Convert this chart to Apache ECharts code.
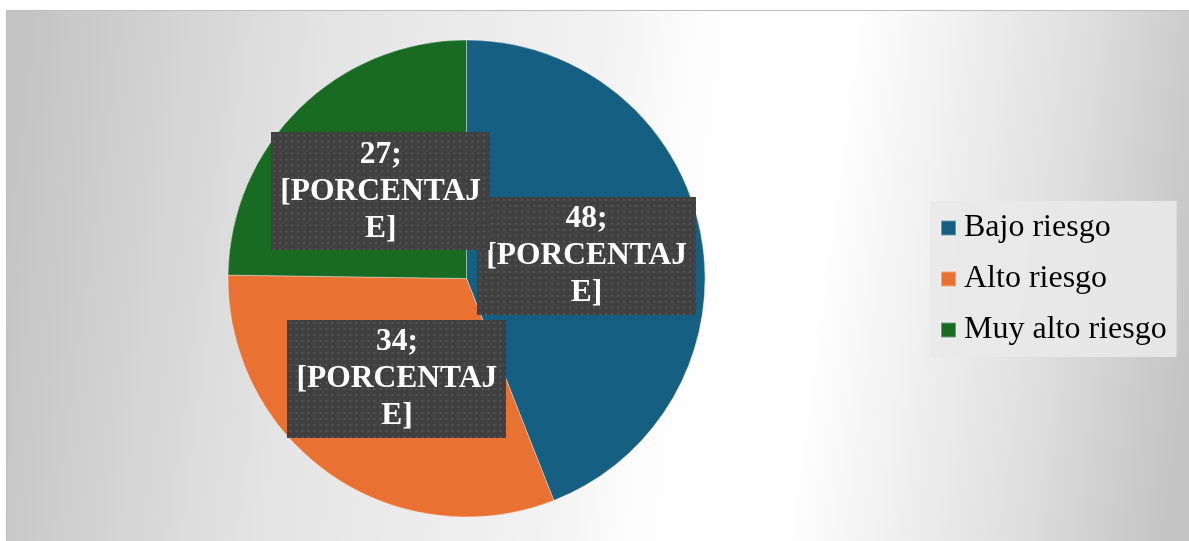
<!DOCTYPE html>
<html>
<head>
<meta charset="utf-8">
<script src="https://cdn.jsdelivr.net/npm/echarts@6/dist/echarts.min.js"></script>
<style>
  html, body { margin: 0; padding: 0; background: #ffffff; }
  #chart { width: 1189px; height: 541px; }
</style>
</head>
<body>
<div id="chart"></div>
<script>
// ---- data ----
const categories = ['Bajo riesgo', 'Alto riesgo', 'Muy alto riesgo'];
const values = [48, 34, 27];
const colors = ['#156082', '#E97132', '#196B24'];
// which label sits on the top layer (drawn by an overlay series)
const topLabelIndex = 2;

// ---- dotted dark label background ----
function makePattern(w, h) {
  const c = document.createElement('canvas');
  c.width = w; c.height = h;
  const g = c.getContext('2d');
  g.fillStyle = '#404040';
  g.fillRect(0, 0, w, h);
  g.fillStyle = '#555555';
  for (let y = 2; y < h; y += 6) {
    for (let x = 2; x < w; x += 6) {
      g.fillRect(x, y, 2, 2);
    }
  }
  return c;
}
const labelW = 219, labelH = 118;
const pattern = makePattern(labelW, labelH);

const chart = echarts.init(document.getElementById('chart'), null, { renderer: 'canvas' });

const labelStyle = {
  show: true,
  position: 'inside',
  formatter: function (p) { return p.value + ';\n[PORCENTAJ\nE]'; },
  fontFamily: 'Liberation Serif',
  fontWeight: 'bold',
  fontSize: 31.5,
  lineHeight: 37,
  color: '#ffffff',
  textBorderWidth: 0,
  align: 'center',
  verticalAlign: 'middle',
  width: labelW,
  height: labelH - 7,
  padding: [4, 0, 3, 0],
  backgroundColor: { image: pattern },
  shadowColor: 'rgba(0,0,0,0.55)',
  shadowBlur: 6,
  shadowOffsetX: 3,
  shadowOffsetY: 3
};

const pieCommon = {
  type: 'pie',
  center: [466.5, 278.5],
  radius: 238.5,
  startAngle: 90,
  clockwise: true,
  avoidLabelOverlap: false,
  labelLayout: { hideOverlap: false },
  emphasis: { disabled: true },
  labelLine: { show: false }
};

const option = {
  animation: false,
  backgroundColor: '#ffffff',
  graphic: [{
    type: 'rect',
    left: 6, top: 10,
    z: 0,
    silent: true,
    shape: { width: 1183, height: 531 },
    style: {
      fill: {
        type: 'linear', x: 0, y: 0.35, x2: 1, y2: 0.65,
        colorStops: [
          { offset: 0, color: '#c4c4c4' },
          { offset: 0.25, color: '#e4e4e4' },
          { offset: 0.48, color: '#f2f2f2' },
          { offset: 0.55, color: '#fcfcfc' },
          { offset: 0.6, color: '#ffffff' },
          { offset: 0.68, color: '#ffffff' },
          { offset: 0.76, color: '#f2f2f2' },
          { offset: 0.87, color: '#e0e0e0' },
          { offset: 1, color: '#c4c4c4' }
        ]
      },
      stroke: '#bdbdbd',
      lineWidth: 1
    }
  }],
  legend: {
    orient: 'vertical',
    left: 930,
    top: 201,
    padding: [9, 10, 9, 10],
    backgroundColor: 'rgba(233,233,233,0.9)',
    itemGap: 15,
    itemWidth: 15,
    itemHeight: 15,
    icon: 'rect',
    selectedMode: false,
    data: categories,
    textStyle: {
      fontFamily: 'Liberation Serif',
      fontSize: 32,
      lineHeight: 36,
      color: '#000000',
      padding: [0, 0, 0, 3]
    }
  },
  series: [
    Object.assign({}, pieCommon, {
      name: 'main',
      z: 2,
      itemStyle: { borderColor: 'rgba(255,255,255,0.35)', borderWidth: 1 },
      label: labelStyle,
      data: categories.map((name, i) => ({
        name: name,
        value: values[i],
        itemStyle: { color: colors[i] },
        label: { show: i !== topLabelIndex }
      }))
    }),
    Object.assign({}, pieCommon, {
      name: 'overlay',
      z: 5,
      silent: true,
      legendHoverLink: false,
      itemStyle: { color: 'rgba(0,0,0,0)', borderWidth: 0 },
      label: labelStyle,
      data: categories.map((name, i) => ({
        name: name,
        value: values[i],
        itemStyle: { color: 'rgba(0,0,0,0)' },
        label: { show: i === topLabelIndex }
      }))
    })
  ]
};

chart.setOption(option);
</script>
</body>
</html>
